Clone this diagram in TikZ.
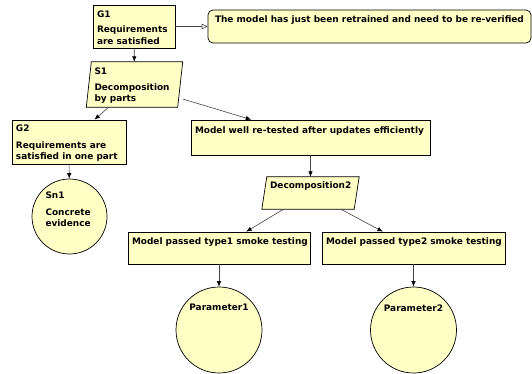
\documentclass[tikz,border=0pt]{standalone}
\usepackage{fontspec}
\setsansfont{DejaVu Sans}
\usetikzlibrary{arrows.meta,backgrounds}

\definecolor{gsnfill}{HTML}{FFFFC6}
\definecolor{gsnline}{HTML}{444444}

% top-aligned, left-aligned text block of width #1 and height #2,
% indented by #3 and pushed down by #4
\newcommand{\gsntext}[5]{\parbox[t][#2][t]{#1}{\raggedright\leftskip=#3\relax\vspace*{#4}#5}}
% top-aligned, centred text block
\newcommand{\gsnctext}[4]{\parbox[t][#2][t]{#1}{\centering\vspace*{#3}#4}}
% one unbreakable line of text
\newcommand{\gsnline}[1]{\mbox{#1}}

\tikzset{
  gsnfont/.style={font=\sffamily\bfseries\fontsize{8.95}{11.4}\selectfont},
  goalbox/.style={rectangle, draw=black, fill=gsnfill, line width=0.7pt, inner sep=0pt, gsnfont},
  ctxbox/.style={goalbox, rounded corners=5pt},
  solcirc/.style={circle, draw=black, fill=gsnfill, line width=0.7pt, inner sep=0pt, gsnfont, minimum size=#1},
  stratnode/.style={rectangle, inner sep=0pt, gsnfont},
  stratshape/.style={draw=black, fill=gsnfill, line width=0.7pt, line join=miter},
  support/.style={draw=gsnline, line width=0.6pt, -{Latex[length=5.5pt,width=4.5pt,color=black]}},
  incontext/.style={draw=gsnline, line width=0.6pt, -{Triangle[open,length=6pt,width=5.5pt,color=gsnline,fill=white]}},
}

\begin{document}
\begin{tikzpicture}[x=1pt,y=-1pt]
\useasboundingbox (0,0) rectangle (532,374);

% goals, context and strategies
\node[goalbox] (g1) at (134,26.5)
  {\gsntext{82pt}{43pt}{4pt}{5.7pt}{\gsnline{G1}\\[3.9pt]\gsnline{Requirements}\\\gsnline{are satisfied}}};
\node[ctxbox] (c1) at (369.5,26.5)
  {\gsntext{323pt}{33pt}{7pt}{5.7pt}{\gsnline{The model has just been retrained and need to be re-verified}}};
\node[stratnode] (s1) at (134.5,84.5)
  {\gsntext{96pt}{45pt}{8pt}{5.4pt}{\gsnline{S1}\\[5.1pt]\gsnline{Decomposition}\\\gsnline{by parts}}};
\node[goalbox] (g2) at (69,142)
  {\gsntext{114pt}{44pt}{4pt}{5pt}{\gsnline{G2}\\[5.2pt]\gsnline{Requirements are}\\\gsnline{satisfied in one part}}};
\node[solcirc=75pt] (sn1) at (69.5,216.5)
  {\gsntext{54pt}{48.6pt}{3pt}{0pt}{\gsnline{Sn1}\\[5.3pt]\gsnline{Concrete}\\\gsnline{evidence}}};
\node[goalbox] (m1) at (310.5,137.5)
  {\gsntext{239pt}{35pt}{4pt}{6.7pt}{\gsnline{Model well re-tested after updates efficiently}}};
\node[stratnode] (d2) at (310.5,193)
  {\gsntext{97pt}{32pt}{8pt}{4.7pt}{\gsnline{Decomposition2}}};
\node[goalbox] (t1) at (219,248)
  {\gsntext{182pt}{32pt}{4pt}{5.7pt}{\gsnline{Model passed type1 smoke testing}}};
\node[goalbox] (t2) at (413.5,248)
  {\gsntext{183pt}{32pt}{4pt}{5.7pt}{\gsnline{Model passed type2 smoke testing}}};
\node[solcirc=86pt] (p1) at (219,330)
  {\gsnctext{64pt}{51.2pt}{0pt}{\gsnline{Parameter1}}};
\node[solcirc=86pt] (p2) at (413.5,330)
  {\gsnctext{64pt}{51.2pt}{0pt}{\gsnline{Parameter2}}};

% strategy parallelograms behind their text
\begin{scope}[on background layer]
  \draw[stratshape] ([xshift=5pt]s1.north west) -- (s1.north east)
    -- ([xshift=-5pt]s1.south east) -- (s1.south west) -- cycle;
  \draw[stratshape] ([xshift=5pt]d2.north west) -- (d2.north east)
    -- ([xshift=-5pt]d2.south east) -- (d2.south west) -- cycle;
\end{scope}

% connectors
\draw[incontext] (g1) -- (c1);
\draw[support] (g1) -- (s1);
\draw[support] (s1) -- (g2);
\draw[support] (s1) -- (m1);
\draw[support] (g2) -- (sn1);
\draw[support] (m1) -- (d2);
\draw[support] (d2) -- (t1);
\draw[support] (d2) -- (t2);
\draw[support] (t1) -- (p1);
\draw[support] (t2) -- (p2);
\end{tikzpicture}
\end{document}
